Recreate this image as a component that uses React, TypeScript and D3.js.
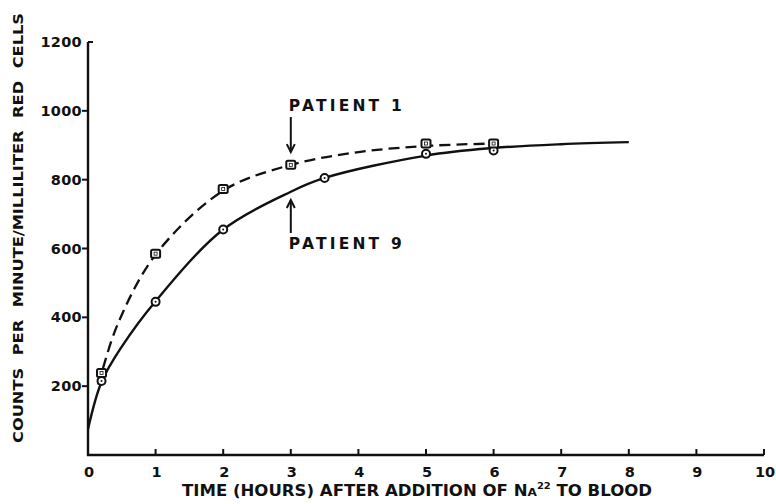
import React from 'react';
import * as d3 from 'd3';

const WIDTH = 776;
const HEIGHT = 504;

// axis ticks
const xTicks = [0, 1, 2, 3, 4, 5, 6, 7, 8, 9, 10];
const yTicks = [200, 400, 600, 800, 1000, 1200];

// measured points (hours, counts/min/ml)
const p1Hours = [0.2, 1, 2, 3, 5, 6];
const p1Counts = [238, 585, 773, 843, 905, 905];
const p9Hours = [0.2, 1, 2, 3.5, 5, 6];
const p9Counts = [215, 445, 655, 805, 875, 885];

// hand-drawn fitted curves
const p1CurveHours = [0.15, 0.2, 0.45, 1, 2, 3, 4, 5, 6];
const p1CurveCounts = [205, 238, 385, 582, 768, 843, 880, 898, 905];
const p9CurveHours = [0, 0.2, 0.5, 1, 2, 3, 3.5, 5, 6, 7, 8];
const p9CurveCounts = [75, 212, 315, 447, 655, 765, 805, 870, 892, 903, 909];

const FONT = '"DejaVu Sans", sans-serif';

function Arrow({ x, y1, y2 }: { x: number; y1: number; y2: number }) {
  // arrowhead at y2
  const dir = y2 > y1 ? 1 : -1;
  return (
    <g stroke="#111" strokeWidth={2} fill="none">
      <line x1={x} x2={x} y1={y1} y2={y2} />
      <path d={`M${x - 4},${y2 - dir * 8} L${x},${y2} L${x + 4},${y2 - dir * 8}`} />
    </g>
  );
}

export default function App() {
  const x = d3.scaleLinear().domain([0, 10]).range([88, 764]);
  const y = d3.scaleLinear().domain([0, 1200]).range([455, 42]);

  const line = d3
    .line<[number, number]>()
    .x((d) => x(d[0]))
    .y((d) => y(d[1]))
    .curve(d3.curveCatmullRom.alpha(0.5));

  const p1Curve = p1CurveHours.map((h, i) => [h, p1CurveCounts[i]] as [number, number]);
  const p9Curve = p9CurveHours.map((h, i) => [h, p9CurveCounts[i]] as [number, number]);

  return (
    <svg
      width={WIDTH}
      height={HEIGHT}
      style={{ position: 'absolute', left: 0, top: 0, background: '#fff' }}
      fontFamily={FONT}
      fontWeight="bold"
    >
      {/* axes */}
      <g stroke="#111" strokeWidth={2.4} fill="none">
        <line x1={x(0)} x2={x(0)} y1={y(1200)} y2={y(0) + 1} />
        <line x1={x(0) - 1} x2={x(10)} y1={y(0)} y2={y(0)} />
        {xTicks.slice(1).map((t) => (
          <line key={t} x1={x(t)} x2={x(t)} y1={y(0)} y2={y(0) - 6} strokeWidth={2} />
        ))}
        {yTicks.map((t) =>
          t === 1200 ? (
            <line key={t} x1={x(0)} x2={x(0) + 5} y1={y(t)} y2={y(t)} strokeWidth={2} />
          ) : (
            <line key={t} x1={x(0) - 6} x2={x(0)} y1={y(t)} y2={y(t)} strokeWidth={2} />
          )
        )}
      </g>

      {/* tick labels */}
      <g fill="#111" fontSize={14.5}>
        {xTicks.map((t) => (
          <text key={t} x={x(t) + 1} y={y(0) + 22} textAnchor="middle">
            {t}
          </text>
        ))}
        {yTicks.map((t) => (
          <text key={t} x={x(0) - 6} y={y(t) + 5} textAnchor="end" letterSpacing={0.3}>
            {t}
          </text>
        ))}
      </g>

      {/* axis titles */}
      <text
        x={417}
        y={496}
        textAnchor="middle"
        fontSize={15}
        fill="#111"
        textLength={470}
        lengthAdjust="spacingAndGlyphs"
      >
        TIME (HOURS) AFTER ADDITION OF N
        <tspan fontSize={11}>A</tspan>
        <tspan fontSize={9} dy={-7}>22</tspan>
        <tspan dy={7}> TO BLOOD</tspan>
      </text>
      <text
        transform="translate(23,228) rotate(-90)"
        textAnchor="middle"
        fontSize={14}
        fill="#111"
        textLength={430}
        lengthAdjust="spacingAndGlyphs"
        wordSpacing={6}
      >
        COUNTS PER MINUTE/MILLILITER RED CELLS
      </text>

      {/* curves */}
      <path d={line(p1Curve) ?? ''} fill="none" stroke="#111" strokeWidth={2.3} strokeDasharray="11 6" />
      <path d={line(p9Curve) ?? ''} fill="none" stroke="#111" strokeWidth={2.4} />

      {/* patient 9 circles */}
      {p9Hours.map((h, i) => (
        <g key={'c' + i}>
          <circle cx={x(h)} cy={y(p9Counts[i])} r={4} fill="#fff" stroke="#111" strokeWidth={2} />
          <circle cx={x(h)} cy={y(p9Counts[i])} r={1} fill="#111" />
        </g>
      ))}

      {/* patient 1 squares */}
      {p1Hours.map((h, i) => (
        <g key={'s' + i}>
          <rect
            x={x(h) - 4.5}
            y={y(p1Counts[i]) - 4}
            width={9}
            height={8}
            rx={1.5}
            fill="#fff"
            stroke="#111"
            strokeWidth={2}
          />
          <rect x={x(h) - 1.5} y={y(p1Counts[i]) - 1.5} width={3} height={3} fill="none" stroke="#111" strokeWidth={0.8} />
        </g>
      ))}

      {/* annotations */}
      <text x={x(2.97)} y={y(1000)} fontSize={15.5} fill="#111" letterSpacing={3.2}>
        PATIENT 1
      </text>
      <Arrow x={x(3)} y1={y(982)} y2={y(880)} />
      <Arrow x={x(3)} y1={y(645)} y2={y(741)} />
      <text x={x(2.97)} y={y(599)} fontSize={15.5} fill="#111" letterSpacing={3.2}>
        PATIENT 9
      </text>
    </svg>
  );
}
